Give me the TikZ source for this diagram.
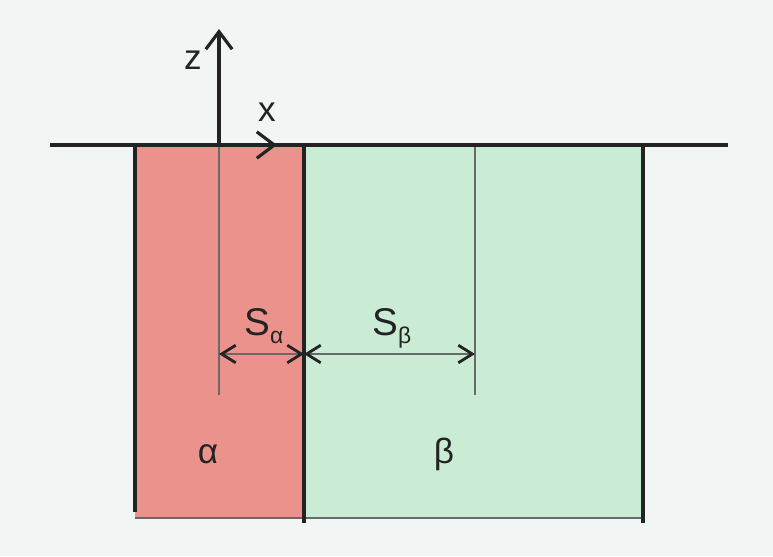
\documentclass[tikz,border=0pt]{standalone}
\usepackage{fontspec}
\setmainfont{Liberation Sans}
\usepackage{xcolor}
\usepackage{tikz}
\usetikzlibrary{arrows.meta}
\definecolor{fondo}{RGB}{241,245,243}
\definecolor{rosa}{RGB}{236,146,140}
\definecolor{verde}{RGB}{202,236,212}
\definecolor{negro}{RGB}{35,35,35}
\definecolor{gris}{RGB}{105,105,105}
\newcommand{\subi}[1]{\raisebox{-5pt}{\fontsize{13}{14}\selectfont #1}}

\begin{document}
\begin{tikzpicture}[x=0.02cm,y=-0.02cm,
		grueso/.style={draw=negro,line width=1.8pt},
		fino/.style={draw=gris,line width=0.6pt},
		punta/.style={-{Straight Barb[length=10pt,width=15pt,line width=1.8pt]}},
		cota/.style={fino,{Straight Barb[length=8pt,width=10pt,line width=1.6pt,color=negro]}-{Straight Barb[length=8pt,width=10pt,line width=1.6pt,color=negro]}},
		rotulo/.style={inner sep=0pt,text=negro,font=\fontsize{20}{22}\selectfont}]
			% fondo y marco
			\fill[fondo] (0,0) rectangle (773,556);
			\useasboundingbox (0,0) rectangle (773,556);
			% puntos
			\coordinate (izq) at (50,145);
			\coordinate (der) at (728,145);
			\coordinate (o) at (219,145);
			\coordinate (ztop) at (219,29);
			\coordinate (xtop) at (277,145);
			\coordinate (aTop) at (135,145);
			\coordinate (aBot) at (135,512);
			\coordinate (mTop) at (304,145);
			\coordinate (mBot) at (304,523);
			\coordinate (bTop) at (643,145);
			\coordinate (bBot) at (643,523);
			\coordinate (oBot) at (219,395);
			\coordinate (sTop) at (475,145);
			\coordinate (sBot) at (475,395);
			\coordinate (dA) at (219,354);
			\coordinate (dM) at (304,354);
			\coordinate (dB) at (475,354);
			% fases
			\fill[rosa] (135,145) rectangle (304,518);
			\fill[verde] (304,145) rectangle (643,518);
			\draw[fino] (135,518) -- (643,518);
			% lineas
			\draw[fino] (o) -- (oBot);
			\draw[fino] (sTop) -- (sBot);
			\draw[grueso] (aTop) -- (aBot);
			\draw[grueso] (mTop) -- (mBot);
			\draw[grueso] (bTop) -- (bBot);
			\draw[grueso] (izq) -- (der);
			% ejes
			\draw[grueso,punta] (o) -- (ztop);
			\draw[grueso,punta] (o) -- (xtop);
			\node[rotulo] (zlab) at (193,60) {z};
			\node[rotulo] (xlab) at (267,112) {x};
			% cotas
			\draw[cota] (dA) -- (dM);
			\draw[cota] (dM) -- (dB);
			\node[rotulo,anchor=base west,font=\fontsize{22}{24}\selectfont] (Salfa) at (244,335) {S\subi{α}};
			\node[rotulo,anchor=base west,font=\fontsize{22}{24}\selectfont] (Sbeta) at (372,335) {S\subi{β}};
			% rotulos de fase
			\node[rotulo,anchor=base] (alfa) at (208,463) {α};
			\node[rotulo,anchor=base] (beta) at (444,463) {β};
		\end{tikzpicture}
\end{document}
